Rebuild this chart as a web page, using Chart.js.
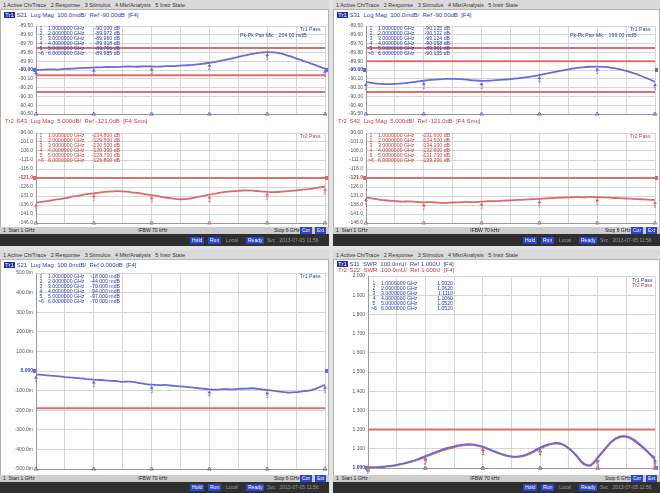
<!DOCTYPE html>
<html lang="en">
<head>
<meta charset="UTF-8">
<title>ENA S-parameter screens</title>
<script src="https://cdn.jsdelivr.net/npm/chart.js"></script>
<style>
    body { margin:0; width:660px; height:493px; background:#e2e2e2; position:relative; overflow:hidden;
           font-family:'Liberation Sans', Arial, sans-serif; }
    .abs { position:absolute; white-space:pre; }
    .menu { height:10px; background:#dadada; border-bottom:1px solid #b5b5b5; box-sizing:border-box;
            font-size:5.5px; line-height:10px; color:#333; padding-left:3px; z-index:3; }
    .win { background:#fff; border-left:1px solid #b0b0b0; border-right:1px solid #b0b0b0; box-sizing:border-box; }
    .status { height:7px; background:#cdcdcd; font-size:5px; line-height:7px; color:#222; z-index:3; }
    .dark { background:#2f2f2f; z-index:3; }
    .btn { background:#2b46c6; color:#fff; font-size:5px; line-height:7px; height:7px; padding:0 2px; z-index:4; }
    .gtxt { color:#9a9a9a; font-size:5px; line-height:7px; z-index:4; }
    .ttl { font-size:6px; line-height:6px; z-index:3; }
    .tag { background:#1f2fa8; color:#fff; padding:0 1px; }
    .mt { font-size:5.2px; line-height:5px; z-index:3; }
    canvas { position:absolute; z-index:2; }
</style>
</head>
<body>

<canvas id="tlU" width="326" height="100" style="left:2px;top:20px"></canvas>
<canvas id="tlL" width="326" height="102" style="left:2px;top:127px"></canvas>
<canvas id="trU" width="323" height="100" style="left:335px;top:20px"></canvas>
<canvas id="trL" width="323" height="102" style="left:335px;top:127px"></canvas>
<canvas id="bl" width="326" height="208" style="left:2px;top:267px"></canvas>
<canvas id="br" width="323" height="204" style="left:335px;top:270px"></canvas>

<script>
    const FREQ = [1.000,1.125,1.250,1.375,1.500,1.625,1.750,1.875,2.000,2.125,2.250,2.375,2.500,2.625,2.750,2.875,
                  3.000,3.125,3.250,3.375,3.500,3.625,3.750,3.875,4.000,4.125,4.250,4.375,4.500,4.625,4.750,4.875,
                  5.000,5.125,5.250,5.375,5.500,5.625,5.750,5.875,6.000];
    const MKR_FREQ = [1, 2, 3, 4, 5, 6];

    // top-left, S21 (dB)
    const TL_S21 = [-90.000,-89.996,-89.993,-89.995,-89.988,-89.984,-89.979,-89.975,-89.972,-89.970,-89.966,-89.968,
                    -89.962,-89.960,-89.963,-89.958,-89.960,-89.962,-89.957,-89.955,-89.950,-89.946,-89.938,-89.930,
                    -89.918,-89.905,-89.888,-89.870,-89.852,-89.833,-89.816,-89.803,-89.796,-89.800,-89.815,-89.840,
                    -89.868,-89.897,-89.925,-89.955,-89.985];
    const TL_S21_LIMITS = [-89.75, -90.06, -90.25];
    // top-left, S43 (dB)
    const TL_S43 = [-134.8,-134.1,-133.5,-132.9,-132.2,-131.4,-130.8,-130.0,-129.5,-129.0,-128.6,-128.3,-128.4,-128.8,
                    -129.3,-129.9,-130.5,-131.2,-131.9,-132.5,-132.8,-132.6,-131.9,-131.1,-130.3,-129.5,-128.9,-128.4,
                    -128.1,-127.9,-128.0,-128.4,-128.7,-128.8,-128.6,-128.3,-127.9,-127.5,-127.0,-126.4,-125.8];
    const TL_S43_LIMITS = [-121.0];
    // top-right, S31 (dB)
    const TR_S31 = [-90.135,-90.150,-90.158,-90.160,-90.157,-90.152,-90.143,-90.132,-90.122,-90.113,-90.106,-90.101,
                    -90.100,-90.104,-90.110,-90.118,-90.124,-90.122,-90.116,-90.110,-90.104,-90.096,-90.085,-90.072,
                    -90.058,-90.042,-90.025,-90.008,-89.992,-89.979,-89.969,-89.963,-89.961,-89.965,-89.975,-89.990,
                    -90.010,-90.035,-90.065,-90.098,-90.135];
    const TR_S31_LIMITS = [-89.75, -89.90, -90.25];
    // top-right, S42 (dB)
    const TR_S42 = [-131.6,-132.5,-133.1,-133.5,-133.8,-134.1,-134.0,-134.3,-134.5,-134.4,-134.7,-134.8,-134.6,-134.5,
                    -134.3,-134.4,-134.1,-133.9,-133.8,-133.6,-133.4,-133.2,-133.0,-132.8,-132.6,-132.3,-132.1,-131.9,
                    -131.8,-131.6,-131.7,-131.5,-131.7,-131.8,-132.0,-132.2,-132.4,-132.6,-132.8,-133.0,-133.2];
    const TR_S42_LIMITS = [-121.0];
    // bottom-left, S21 (dB)
    const BL_S21 = [-0.018,-0.020,-0.024,-0.026,-0.031,-0.034,-0.036,-0.041,-0.044,-0.046,-0.049,-0.051,-0.055,-0.054,
                    -0.059,-0.066,-0.070,-0.072,-0.071,-0.076,-0.078,-0.082,-0.086,-0.090,-0.094,-0.095,-0.092,-0.094,
                    -0.091,-0.090,-0.088,-0.092,-0.097,-0.101,-0.106,-0.110,-0.108,-0.103,-0.099,-0.086,-0.070];
    const BL_S21_LIMITS = [-0.19];
    // bottom-right, SWR
    const BR_S11 = [1.002,1.002,1.004,1.009,1.015,1.024,1.034,1.047,1.062,1.077,1.091,1.103,1.113,1.120,1.124,1.121,
                    1.111,1.096,1.081,1.068,1.060,1.060,1.069,1.086,1.106,1.122,1.130,1.126,1.103,1.068,1.026,1.012,
                    1.052,1.096,1.138,1.160,1.162,1.145,1.115,1.082,1.052];
    const BR_S22 = [1.004,1.005,1.007,1.011,1.016,1.023,1.032,1.044,1.058,1.072,1.086,1.098,1.108,1.116,1.120,1.118,
                    1.109,1.094,1.079,1.066,1.058,1.058,1.066,1.082,1.101,1.118,1.127,1.124,1.101,1.064,1.021,1.016,
                    1.056,1.100,1.140,1.163,1.166,1.150,1.120,1.085,1.040];
    const BR_LIMITS = [1.2];

    const BLUE = '#6b6bd8', RED = '#da6a6a', LIMIT = '#e06d6d';
    const BLUE_TXT = '#2b3bb0', RED_TXT = '#c63c3c';

    function el(cls, x, y, text, extra) {
        const d = document.createElement('div');
        d.className = 'abs ' + cls;
        d.style.left = x + 'px';
        d.style.top = y + 'px';
        if (text !== undefined) d.innerHTML = text;
        Object.assign(d.style, extra || {});
        document.body.appendChild(d);
        return d;
    }

    // instrument window around each screen
    function chrome(x, w, top, statusTop, bottom) {
        el('menu', x, top, '1 Active Ch/Trace   2 Response   3 Stimulus   4 Mkr/Analysis   5 Instr State', { width: w + 'px' });
        el('win', x, top + 10, undefined, { width: w + 'px', height: (statusTop - top - 10) + 'px' });
        el('status', x, statusTop, '', { width: w + 'px' });
        el('status', x + 3, statusTop, '1  Start 1 GHz', { background: 'none' });
        el('status', x + w * 0.42, statusTop, 'IFBW 70 kHz', { background: 'none' });
        el('status', x + w - 55, statusTop, 'Stop 6 GHz', { background: 'none' });
        el('btn', x + w - 29, statusTop, 'Cor');
        el('btn', x + w - 14, statusTop, 'Ext');
        const dTop = statusTop + 7;
        el('dark', x, dTop, undefined, { width: w + 'px', height: (bottom - dTop) + 'px' });
        const by = dTop + Math.max(1, (bottom - dTop - 7) / 2);
        el('btn', x + 190, by, 'Hold');
        el('btn', x + 208, by, 'Run');
        el('gtxt', x + 226, by, 'Local');
        el('btn', x + 246, by, 'Ready');
        el('gtxt', x + 267, by, 'Svc   2013-07-05 11:56');
    }
    chrome(0, 329, 0, 227, 246);
    chrome(333, 327, 0, 227, 246);
    chrome(0, 329, 250, 475, 493);
    chrome(333, 327, 250, 475, 493);

    function title(x, y, tag, text, color) {
        el('ttl', x, y, '<span class="tag"' + (color === RED_TXT ? ' style="background:none;color:' + RED_TXT + '"' : '') + '>' + tag + '</span> ' + text, { color: color });
    }
    title(4, 12, 'Tr1', 'S21  Log Mag  100.0mdB/  Ref -90.00dB  [F4]', BLUE_TXT);
    title(4, 118, 'Tr2', 'S43  Log Mag  5.000dB/  Ref -121.0dB  [F4 Smo]', RED_TXT);
    title(337, 12, 'Tr1', 'S31  Log Mag  100.0mdB/  Ref -90.00dB  [F4]', BLUE_TXT);
    title(337, 118, 'Tr2', 'S42  Log Mag  5.000dB/  Ref -121.0dB  [F4 Smo]', RED_TXT);
    title(4, 262, 'Tr1', 'S21  Log Mag  100.0mdB/  Ref 0.000dB  [F4]', BLUE_TXT);
    title(337, 261, 'Tr1', 'S11  SWR  100.0mU/  Ref 1.000U  [F4]', BLUE_TXT);
    title(337, 267, 'Tr2', 'S22  SWR  100.0mU/  Ref 1.000U  [F4]', RED_TXT);

    function markerTable(x, y, color, trace, fmt) {
        MKR_FREQ.forEach((f, k) => {
            const v = trace[FREQ.indexOf(f)];
            const ry = y + k * 5;
            el('mt', x, ry, (k === 5 ? '&gt;' : ' ') + (k + 1), { color: color });
            el('mt', x + 10, ry, f.toFixed(7) + ' GHz', { color: color });
            el('mt', x + 48, ry, fmt(v), { color: color, width: '34px', textAlign: 'right' });
        });
    }
    markerTable(38, 26, BLUE_TXT, TL_S21, v => v.toFixed(3) + ' dB');
    markerTable(38, 133, RED_TXT, TL_S43, v => v.toFixed(3) + ' dB');
    markerTable(368, 26, BLUE_TXT, TR_S31, v => v.toFixed(3) + ' dB');
    markerTable(368, 133, RED_TXT, TR_S42, v => v.toFixed(3) + ' dB');
    markerTable(38, 274, BLUE_TXT, BL_S21, v => (v * 1000).toFixed(3) + ' mdB');
    markerTable(371, 281, BLUE_TXT, BR_S11, v => v.toFixed(4));

    el('mt', 300, 27, 'Tr1 Pass', { color: BLUE_TXT });
    el('mt', 240, 33, 'Pk-Pk Pair Mk:   204.00 mdB', { color: BLUE_TXT });
    el('mt', 300, 134, 'Tr2 Pass', { color: RED_TXT });
    el('mt', 630, 27, 'Tr1 Pass', { color: BLUE_TXT });
    el('mt', 570, 33, 'Pk-Pk Pair Mk:   199.00 mdB', { color: BLUE_TXT });
    el('mt', 630, 134, 'Tr2 Pass', { color: RED_TXT });
    el('mt', 300, 274, 'Tr1 Pass', { color: BLUE_TXT });
    el('mt', 632, 278, 'Tr1 Pass', { color: BLUE_TXT });
    el('mt', 632, 283, 'Tr2 Pass', { color: RED_TXT });

    // markers, ref indicators and stimulus marks
    const enaDeco = {
        id: 'enaDeco',
        afterDatasetsDraw(chart, args, o) {
            if (!o || !o.traces) return;
            const { ctx, chartArea: a, scales: { x, y } } = chart;
            ctx.save();
            const ry = y.getPixelForValue(o.ref);
            ctx.fillStyle = o.refColor;
            ctx.fillRect(a.left - 3, ry - 2, 3, 4);
            ctx.fillRect(a.right, ry - 2, 3, 4);
            o.traces.forEach(tr => {
                const data = chart.data.datasets[tr.index].data;
                MKR_FREQ.forEach((f, k) => {
                    const p = data.find(d => d.x === f);
                    const px = x.getPixelForValue(f), py = y.getPixelForValue(p.y);
                    ctx.fillStyle = tr.color;
                    ctx.beginPath();
                    ctx.moveTo(px, py + 1);
                    ctx.lineTo(px - 2, py + 4);
                    ctx.lineTo(px + 2, py + 4);
                    ctx.closePath();
                    ctx.fill();
                    ctx.font = '5px Liberation Sans';
                    ctx.textAlign = 'center';
                    ctx.textBaseline = 'top';
                    ctx.fillText(String(k + 1), px, py + 4);
                    ctx.strokeStyle = tr.color;
                    ctx.lineWidth = 1;
                    ctx.beginPath();
                    ctx.moveTo(px - 2, a.bottom + 1);
                    ctx.lineTo(px, a.bottom - 2);
                    ctx.lineTo(px + 2, a.bottom + 1);
                    ctx.closePath();
                    ctx.stroke();
                });
            });
            ctx.restore();
        }
    };
    Chart.register(enaDeco);

    const pts = ys => FREQ.map((f, i) => ({ x: f, y: ys[i] }));
    const hline = v => [{ x: 1, y: v }, { x: 6, y: v }];

    function scope(id, s) {
        const traces = s.traces.map(t => ({
            data: pts(t.values), borderColor: t.color, borderWidth: 1.8, tension: s.tension
        }));
        const limits = s.limits.map(v => ({
            data: hline(v), borderColor: LIMIT, borderWidth: 2, tension: 0
        }));
        const isRef = c => !!(c && c.tick) && Math.abs(c.tick.value - s.ref) < 1e-6;
        return new Chart(document.getElementById(id), {
            type: 'line',
            data: { datasets: [...traces, ...limits] },
            options: {
                responsive: false,
                animation: false,
                layout: { padding: { top: s.padTop, bottom: s.padBottom, right: 3, left: 0 } },
                elements: { point: { radius: 0 } },
                plugins: {
                    legend: { display: false },
                    tooltip: { enabled: false },
                    enaDeco: {
                        ref: s.ref, refColor: s.traces[0].color,
                        traces: s.traces.map((t, i) => ({ index: i, color: t.color }))
                    }
                },
                scales: {
                    x: {
                        type: 'linear', min: 1, max: 6,
                        ticks: { display: false, stepSize: 0.5 },
                        grid: { color: '#d5d5d5', drawTicks: false },
                        border: { color: '#9a9a9a' },
                        afterFit: sc => { sc.height = 0; }
                    },
                    y: {
                        min: s.min, max: s.max,
                        ticks: {
                            stepSize: s.step, autoSkip: false, padding: 3,
                            callback: s.fmt,
                            color: c => isRef(c) ? s.traces[0].label : '#555',
                            font: c => ({ size: 5, family: 'Liberation Sans', weight: isRef(c) ? 'bold' : 'normal' })
                        },
                        grid: { color: '#d5d5d5', drawTicks: false },
                        border: { color: '#9a9a9a' },
                        afterFit: sc => { sc.width = s.axisW; }
                    }
                }
            }
        });
    }

    const fmtMdb = v => v.toFixed(2);
    const fmtDb = v => Math.abs(v) >= 100 ? v.toFixed(1) : v.toFixed(2);

    scope('tlU', { traces: [{ values: TL_S21, color: BLUE, label: BLUE_TXT }], limits: TL_S21_LIMITS,
                   min: -90.5, max: -89.5, step: 0.1, ref: -90, fmt: fmtMdb, axisW: 34, padTop: 4, padBottom: 5, tension: 0.3 });
    scope('tlL', { traces: [{ values: TL_S43, color: RED, label: RED_TXT }], limits: TL_S43_LIMITS,
                   min: -146, max: -96, step: 5, ref: -121, fmt: fmtDb, axisW: 34, padTop: 4, padBottom: 4, tension: 0.3 });
    scope('trU', { traces: [{ values: TR_S31, color: BLUE, label: BLUE_TXT }], limits: TR_S31_LIMITS,
                   min: -90.5, max: -89.5, step: 0.1, ref: -90, fmt: fmtMdb, axisW: 31, padTop: 4, padBottom: 5, tension: 0.3 });
    scope('trL', { traces: [{ values: TR_S42, color: RED, label: RED_TXT }], limits: TR_S42_LIMITS,
                   min: -146, max: -96, step: 5, ref: -121, fmt: fmtDb, axisW: 31, padTop: 4, padBottom: 4, tension: 0.3 });
    scope('bl', { traces: [{ values: BL_S21, color: BLUE, label: BLUE_TXT }], limits: BL_S21_LIMITS,
                  min: -0.5, max: 0.5, step: 0.1, ref: 0,
                  fmt: v => Math.abs(v) < 1e-9 ? '0.000' : (v * 1000).toFixed(1) + 'm',
                  axisW: 34, padTop: 5, padBottom: 5, tension: 0.1 });
    scope('br', { traces: [{ values: BR_S11, color: BLUE, label: BLUE_TXT }, { values: BR_S22, color: RED, label: RED_TXT }],
                  limits: BR_LIMITS, min: 1, max: 2, step: 0.1, ref: 1, fmt: v => v.toFixed(3),
                  axisW: 33, padTop: 5, padBottom: 4, tension: 0.35 });
</script>
</body>
</html>
